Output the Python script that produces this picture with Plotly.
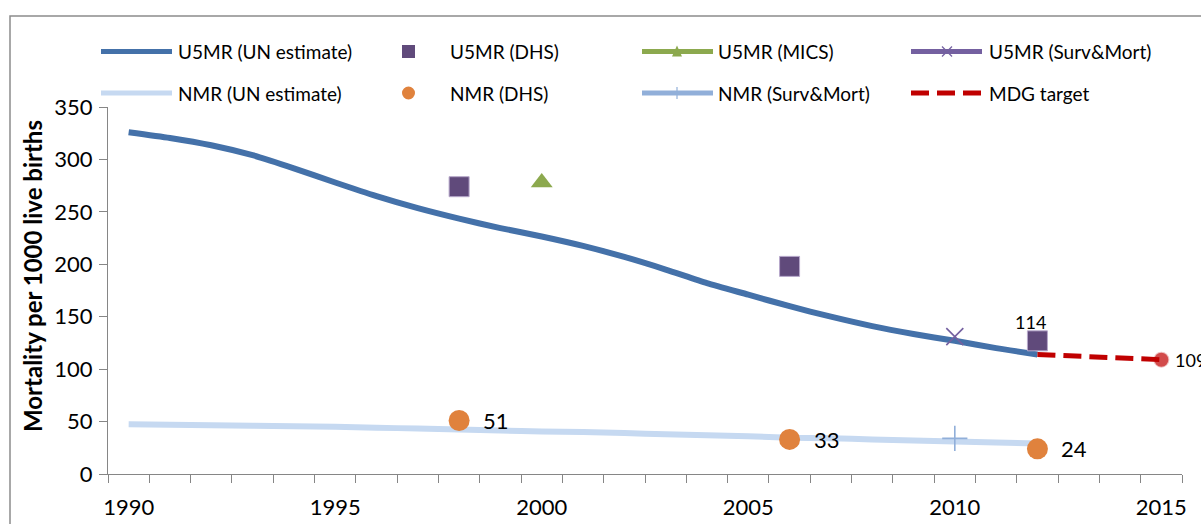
import plotly.graph_objects as go

# ---- data -------------------------------------------------------------
years = list(range(1990, 2013))
u5mr_un = [326, 320.5, 313.5, 304, 291.5, 278, 265, 253.5, 243.5, 234.5, 226.5, 217.5,
           207, 195, 182, 171, 160, 150, 141, 133.5, 127, 120, 114]
nmr_un = [47.5, 47, 46.5, 46, 45.5, 45, 44, 43.5, 42.5, 41.5, 40.5, 40,
          39, 38, 37, 36, 34.5, 34, 33, 32, 31, 30, 29]

u5mr_dhs_years = [1998, 2006, 2012]
u5mr_dhs = [274, 198, 127]
u5mr_mics_years = [2000]
u5mr_mics = [278]
u5mr_sm_years = [2010]
u5mr_sm = [131]

nmr_dhs_years = [1998, 2006, 2012]
nmr_dhs = [51, 33, 24]
nmr_sm_years = [2010]
nmr_sm = [34]

mdg_years = [2012, 2015]
mdg = [114, 109]

x_ticks = [1990, 1995, 2000, 2005, 2010, 2015]
y_title = "Mortality per 1000 live births"

# ---- styling ----------------------------------------------------------
FONT = "Lato"
C_U5 = "#4471A9"
C_NMR = "#C6D9F1"
C_DHS = "#604A7B"
C_MICS = "#8CA94E"
C_SM = "#7460A0"
C_NSM = "#91AFD9"
C_ORANGE = "#E0823D"
C_RED = "#C00000"
AXIS = "#868686"

W, H = 1201, 524
ML, MR, MT, MB = 108, 19, 107, 50
PW, PH = W - ML - MR, H - MT - MB


def px_x(px):
    return (px - ML) / PW


def px_y(py):
    return (H - MB - py) / PH


fig = go.Figure()

fig.add_trace(go.Scatter(x=years, y=u5mr_un, mode="lines", name="U5MR (UN estimate)",
                         line=dict(color=C_U5, width=6, shape="spline", smoothing=0.6)))
fig.add_trace(go.Scatter(x=years, y=nmr_un, mode="lines", name="NMR (UN estimate)",
                         line=dict(color=C_NMR, width=6, shape="spline", smoothing=0.6)))
fig.add_trace(go.Scatter(x=mdg_years, y=mdg, mode="lines+markers", name="MDG target",
                         line=dict(color=C_RED, width=5, dash="18px,8px"),
                         marker=dict(size=[0, 14], color=C_RED,
                                     line=dict(color="rgba(192,0,0,0.35)", width=2))))
fig.add_trace(go.Scatter(x=u5mr_dhs_years, y=u5mr_dhs, mode="markers", name="U5MR (DHS)",
                         marker=dict(symbol="square", size=20, color=C_DHS,
                                     line=dict(color="#B7A8CB", width=1))))
fig.add_trace(go.Scatter(x=u5mr_mics_years, y=u5mr_mics, mode="markers", name="U5MR (MICS)",
                         marker=dict(symbol="triangle-up", size=19, color=C_MICS)))
fig.add_trace(go.Scatter(x=u5mr_sm_years, y=u5mr_sm, mode="markers", name="U5MR (Surv&Mort)",
                         marker=dict(symbol="x-thin", size=17,
                                     line=dict(color=C_SM, width=1.6))))
fig.add_trace(go.Scatter(x=nmr_dhs_years, y=nmr_dhs, mode="markers", name="NMR (DHS)",
                         marker=dict(symbol="circle", size=21, color=C_ORANGE)))
fig.add_trace(go.Scatter(x=nmr_sm_years, y=nmr_sm, mode="markers", name="NMR (Surv&Mort)",
                         marker=dict(symbol="cross-thin", size=18,
                                     line=dict(color=C_NSM, width=1.6))))

# ---- data labels ------------------------------------------------------
annotations = []
for yr, v in zip(nmr_dhs_years, nmr_dhs):
    annotations.append(dict(x=yr, y=v, xref="x", yref="y", text=str(v), showarrow=False,
                            xanchor="left", yanchor="middle", xshift=22,
                            font=dict(family=FONT, size=22, color="#000000")))
annotations.append(dict(x=mdg_years[0], y=mdg[0], xref="x", yref="y", text=str(mdg[0]),
                        showarrow=False, xanchor="center", yanchor="middle",
                        xshift=-7, yshift=32, font=dict(family=FONT, size=18, color="#000000")))
annotations.append(dict(x=mdg_years[-1], y=mdg[-1], xref="x", yref="y", text=str(mdg[-1]),
                        showarrow=False, xanchor="left", yanchor="middle",
                        xshift=12, font=dict(family=FONT, size=18, color="#000000")))

# ---- hand-laid legend (two rows, four columns) ------------------------
shapes = []
ROW1, ROW2 = 51.5, 93


def seg(x0, x1, y, color, width, dash="solid"):
    shapes.append(dict(type="line", xref="paper", yref="paper",
                       x0=px_x(x0), x1=px_x(x1), y0=px_y(y), y1=px_y(y),
                       line=dict(color=color, width=width, dash=dash)))


def path(pts, fill=None, color=None, width=0, closed=True):
    d = "M " + " L ".join(f"{px_x(a)},{px_y(b)}" for a, b in pts)
    if closed:
        d += " Z"
    shapes.append(dict(type="path", xref="paper", yref="paper", path=d,
                       fillcolor=fill if fill else "rgba(0,0,0,0)",
                       line=dict(color=color if color else "rgba(0,0,0,0)", width=width)))


def label(x, y, text):
    annotations.append(dict(x=px_x(x), y=px_y(y), xref="paper", yref="paper", text=text,
                            showarrow=False, xanchor="left", yanchor="middle",
                            font=dict(family=FONT, size=19, color="#000000")))


# column 1
seg(101, 172, ROW1, C_U5, 5)
label(176, ROW1, "U5MR (UN estimate)")
seg(101, 172, ROW2, C_NMR, 5)
label(176, ROW2, "NMR (UN estimate)")

# column 2
path([(402, ROW1 - 6.5), (415, ROW1 - 6.5), (415, ROW1 + 6.5), (402, ROW1 + 6.5)], fill=C_DHS)
label(448, ROW1, "U5MR (DHS)")
shapes.append(dict(type="circle", xref="paper", yref="paper",
                   x0=px_x(402), x1=px_x(415), y0=px_y(ROW2 + 6.5), y1=px_y(ROW2 - 6.5),
                   fillcolor=C_ORANGE, line=dict(width=0)))
label(448, ROW2, "NMR (DHS)")

# column 3
seg(642, 713, ROW1, C_MICS, 5)
path([(672, ROW1 + 5), (682, ROW1 + 5), (677, ROW1 - 6)], fill=C_MICS)
label(716, ROW1, "U5MR (MICS)")
seg(642, 713, ROW2, C_NSM, 5)
path([(677, ROW2 - 6), (677, ROW2 + 6)], color=C_NSM, width=1.2, closed=False)
label(716, ROW2, "NMR (Surv&Mort)")

# column 4
seg(911, 982, ROW1, C_SM, 5)
path([(942, ROW1 - 5), (952, ROW1 + 5)], color=C_SM, width=1.2, closed=False)
path([(942, ROW1 + 5), (952, ROW1 - 5)], color=C_SM, width=1.2, closed=False)
label(987, ROW1, "U5MR (Surv&Mort)")
seg(911, 982, ROW2, C_RED, 5, dash="18px,8px")
label(987, ROW2, "MDG target")

# outer chart frame
shapes.append(dict(type="rect", xref="paper", yref="paper",
                   x0=px_x(10), x1=px_x(1215), y0=px_y(540), y1=px_y(16),
                   line=dict(color="#8C8C8C", width=1.5), fillcolor="rgba(0,0,0,0)", layer="below"))

annotations.append(dict(x=px_x(32), y=px_y(276), xref="paper", yref="paper", text=f"<b>{y_title}</b>",
                        textangle=-90, showarrow=False, xanchor="center", yanchor="middle",
                        font=dict(family=FONT, size=24, color="#000000")))

fig.update_layout(
    width=W, height=H,
    margin=dict(l=ML, r=MR, t=MT, b=MB, pad=0, autoexpand=False),
    paper_bgcolor="white", plot_bgcolor="white",
    showlegend=False,
    font=dict(family=FONT, size=22, color="#000000"),
    shapes=shapes,
    annotations=annotations,
    xaxis=dict(range=[1989.5, 2015.5], tickmode="array", tickvals=x_ticks,
               ticktext=[str(t) for t in x_ticks], ticks="", showgrid=False, zeroline=False,
               showline=True, linecolor=AXIS, linewidth=1.3, ticklabelstandoff=13,
               automargin=False,
               minor=dict(ticks="outside", tick0=1989.5, dtick=1, ticklen=8,
                          tickcolor=AXIS, tickwidth=1.3, showgrid=False),
               tickfont=dict(family=FONT, size=22, color="#000000")),
    yaxis=dict(range=[0, 350], dtick=50, ticks="outside", ticklen=8, tickcolor=AXIS,
               tickwidth=1.3, showgrid=False, zeroline=False, showline=True,
               linecolor=AXIS, linewidth=1.3, ticklabelstandoff=2, automargin=False,
               tickfont=dict(family=FONT, size=22, color="#000000")),
)

fig.write_html("out.html")
